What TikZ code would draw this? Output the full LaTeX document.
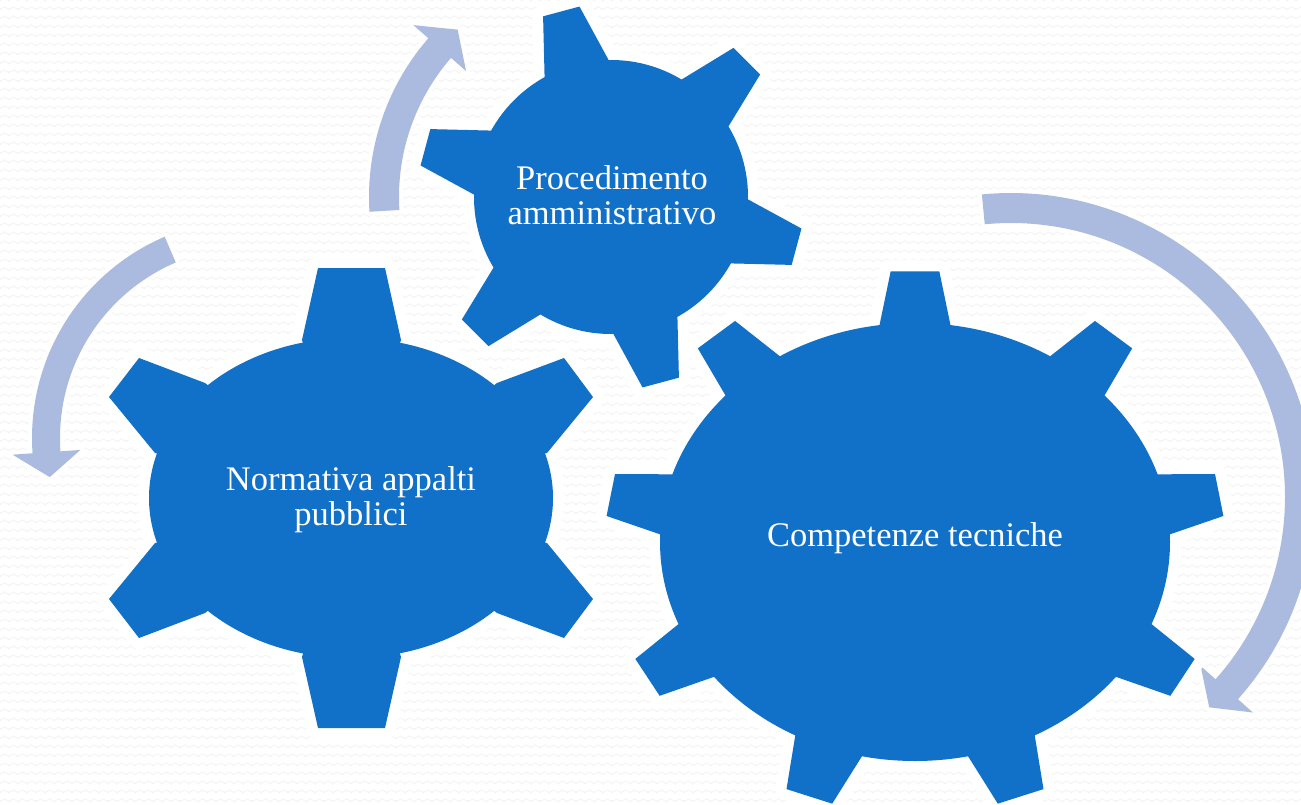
\documentclass[tikz,border=0pt]{standalone}
\usepackage{fontspec}
\setmainfont{Liberation Serif}
\usetikzlibrary{patterns}
\definecolor{gearblue}{RGB}{17,112,199}
\definecolor{arrowblue}{RGB}{171,187,223}
\definecolor{wavegray}{RGB}{245,245,245}

\pgfdeclarepatterninherentlycolored{bgwaves}
  {\pgfqpoint{-1pt}{-1pt}}{\pgfqpoint{10pt}{10pt}}{\pgfqpoint{9pt}{9pt}}
  {\pgfsetcolor{wavegray}\pgfsetlinewidth{1pt}
   \pgfpathmoveto{\pgfqpoint{-4.5pt}{6pt}}
   \pgfpathcurveto{\pgfqpoint{-2.25pt}{6pt}}{\pgfqpoint{-2.25pt}{3.5pt}}{\pgfqpoint{0pt}{3.5pt}}
   \pgfpathcurveto{\pgfqpoint{2.25pt}{3.5pt}}{\pgfqpoint{2.25pt}{6pt}}{\pgfqpoint{4.5pt}{6pt}}
   \pgfpathcurveto{\pgfqpoint{6.75pt}{6pt}}{\pgfqpoint{6.75pt}{3.5pt}}{\pgfqpoint{9pt}{3.5pt}}
   \pgfpathcurveto{\pgfqpoint{11.25pt}{3.5pt}}{\pgfqpoint{11.25pt}{6pt}}{\pgfqpoint{13.5pt}{6pt}}
   \pgfusepath{stroke}}

% circular arrow: #1 cx, #2 cy, #3 inner r, #4 outer r, #5 start angle, #6 end angle, #7 tip angle, #8 style
\newcommand\circarrow[8]{%
  \path[#8] plot[domain=#5:#6, samples=90] ({#1+#4*cos(\x)},{#2-#4*sin(\x)})
    -- ({#1+(#4+20)*cos(#6)},{#2-(#4+20)*sin(#6)})
    -- ({#1+(#3+#4)/2*cos(#7)},{#2-(#3+#4)/2*sin(#7)})
    -- ({#1+(#3-20)*cos(#6)},{#2-(#3-20)*sin(#6)})
    -- plot[domain=#6:#5, samples=90] ({#1+#3*cos(\x)},{#2-#3*sin(\x)})
    -- cycle;}

% polar gear: #1 cx, #2 cy, #3 rx, #4 ry, #5 teeth, #6 first tooth angle, #7 tip radius (rel), #8 tip half angle, #9 base half angle
% \tipx scales the tip radius horizontally
\newcommand\polargear[9]{%
  \path[gearpart] (#1,#2) ellipse [x radius=#3pt, y radius=#4pt];
  \foreach \k in {1,...,#5}{%
    \pgfmathsetmacro\th{#6-360/#5*(\k-1)}%
    \path[gearpart]
      ({#1+#3*#7*\tipx*cos(\th+#8)},{#2-#4*#7*sin(\th+#8)})
      -- ({#1+#3*#7*\tipx*cos(\th-#8)},{#2-#4*#7*sin(\th-#8)})
      -- ({#1+#3*cos(\th-#9)},{#2-#4*sin(\th-#9)})
      -- (#1,#2)
      -- ({#1+#3*cos(\th+#9)},{#2-#4*sin(\th+#9)})
      -- cycle;}}

% the elliptic gear on the left, traced
\newcommand\gearone{%
  \path[gearpart] (351,498) ellipse [x radius=202pt, y radius=160pt];
  \path[gearpart] (318,268) -- (385,268) -- (401,340) -- (351,498) -- (302,340) -- cycle;
  \path[gearpart] (318,728) -- (385,728) -- (401,657) -- (351,498) -- (302,657) -- cycle;
  \path[gearpart] (109,397) -- (139,358) -- (205,383) -- (351,498) -- (155,453) -- cycle;
  \path[gearpart] (109,599) -- (139,638) -- (205,613) -- (351,498) -- (155,543) -- cycle;
  \path[gearpart] (593,397) -- (564,358) -- (497,383) -- (351,498) -- (547,453) -- cycle;
  \path[gearpart] (593,599) -- (564,638) -- (497,613) -- (351,498) -- (547,543) -- cycle;}

\newcommand\allgears{%
  \gearone
  \def\tipx{1}%
  \polargear{611}{197}{137}{137}{6}{105}{1.409}{5.6}{14}
  \def\tipx{0.98}%
  \polargear{915}{542}{255}{219}{9}{90}{1.24}{4.5}{8}}

\tikzset{
  lbl/.style={text=white, font=\fontsize{34.5}{35}\selectfont, inner sep=0pt, anchor=base},
  halo/.style={draw=white, line width=22pt, line join=round},
  arrowhalo/.style={draw=white, line width=8pt, line join=round},
  arrowfill/.style={fill=arrowblue}
}

\begin{document}
\begin{tikzpicture}[x=1pt, y=-1pt]
  \useasboundingbox (0,0) rectangle (1301,805);
  \clip (0,0) rectangle (1301,805);
  \fill[white] (0,0) rectangle (1301,805);
  \fill[pattern=bgwaves] (0,0) rectangle (1301,805);

  % curved arrows
  \circarrow{611}{197}{212}{242}{183.5}{139}{132.5}{arrowhalo}
  \circarrow{251}{438}{191}{219}{113.2}{184}{191}{arrowhalo}
  \circarrow{1011}{497}{274}{304}{95.5}{-41.7}{-46.7}{arrowhalo}
  \circarrow{611}{197}{212}{242}{183.5}{139}{132.5}{arrowfill}
  \circarrow{251}{438}{191}{219}{113.2}{184}{191}{arrowfill}
  \circarrow{1011}{497}{274}{304}{95.5}{-41.7}{-46.7}{arrowfill}

  % gears: white glow first, then the blue fill
  \begin{scope}[gearpart/.style=halo]
    \allgears
  \end{scope}
  \begin{scope}[gearpart/.style={fill=gearblue}]
    \allgears
  \end{scope}

  % labels
  \node[lbl] (norm1) at (351,490) {Normativa appalti};
  \node[lbl] (norm2) at (351,525) {pubblici};
  \node[lbl] (proc1) at (612,190) {Procedimento};
  \node[lbl] (proc2) at (612,225) {amministrativo};
  \node[lbl] (comp) at (915,546) {Competenze tecniche};
\end{tikzpicture}
\end{document}
